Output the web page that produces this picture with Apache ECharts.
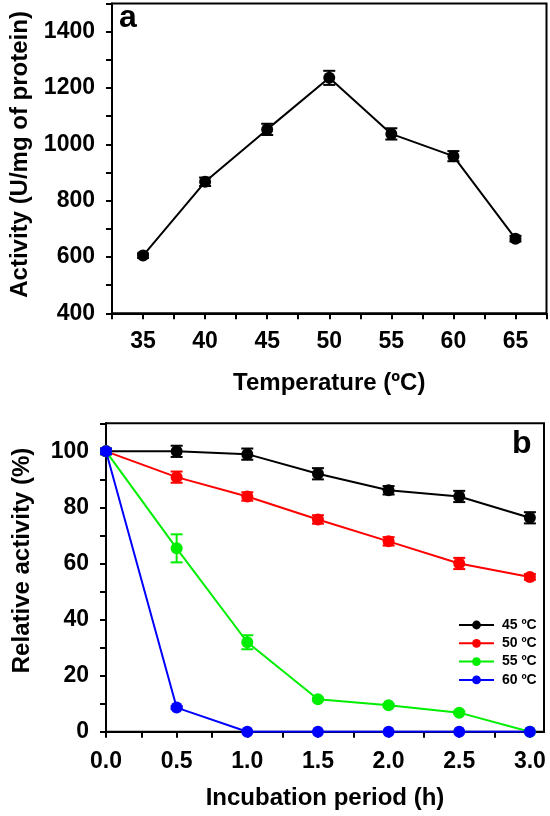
<!DOCTYPE html>
<html>
<head>
<meta charset="utf-8">
<script src="https://cdn.jsdelivr.net/npm/echarts@6/dist/echarts.min.js"></script>
<style>html,body{margin:0;padding:0;background:#fff;}#c{width:550px;height:816px;}</style>
</head>
<body>
<div id="c"></div>
<script>
// Panel a: activity vs temperature
const temperatures = [35, 40, 45, 50, 55, 60, 65];
const activity = [605, 867, 1053, 1236, 1037, 958, 665];
const activityErr = [8, 15, 20, 25, 20, 18, 10];

// Panel b: thermal stability
const hours = [0, 0.5, 1.0, 1.5, 2.0, 2.5, 3.0];
const seriesNames = ['45 ºC', '50 ºC', '55 ºC', '60 ºC'];
const rel45 = [100, 100, 99, 92, 86.1, 83.9, 76.3];
const rel50 = [100, 90.8, 83.9, 75.7, 67.9, 60.0, 55.2];
const rel55 = [100, 65.4, 31.9, 11.6, 9.4, 6.8, 0];
const rel60 = [100, 8.6, 0, 0, 0, 0, 0];
const err45 = [1, 2, 2, 2, 1.5, 2, 2];
const err50 = [1, 2, 1.5, 1.5, 1.5, 2, 1];
const err55 = [1, 5, 2.5, 0.5, 0.5, 0.5, 0];
const err60 = [1, 0.5, 0, 0, 0, 0, 0];
const colors = ['#000000', '#ff0000', '#00ee00', '#0000ff'];

const yTicksA = [400, 600, 800, 1000, 1200, 1400];
const xTicksA = [35, 40, 45, 50, 55, 60, 65];
const yTicksB = [0, 20, 40, 60, 80, 100];
const xTicksB = [0, 0.5, 1.0, 1.5, 2.0, 2.5, 3.0];

const FONT = '"Liberation Sans", Arial, Helvetica, sans-serif';
const near = (v, arr) => arr.some(t => Math.abs(t - v) < 1e-6);

function pairs(xs, ys, es) { return xs.map((x, i) => [x, ys[i], es[i]]); }

function errRender(color) {
  return function (params, api) {
    const x = api.value(0), y = api.value(1), e = api.value(2);
    if (!e) return null;
    const top = api.coord([x, y + e]);
    const bot = api.coord([x, y - e]);
    const hw = 6;
    const st = { stroke: color, lineWidth: 2 };
    return {
      type: 'group',
      children: [
        { type: 'line', shape: { x1: top[0], y1: top[1], x2: bot[0], y2: bot[1] }, style: st },
        { type: 'line', shape: { x1: top[0] - hw, y1: top[1], x2: top[0] + hw, y2: top[1] }, style: st },
        { type: 'line', shape: { x1: bot[0] - hw, y1: bot[1], x2: bot[0] + hw, y2: bot[1] }, style: st }
      ]
    };
  };
}

const labelStyle = { color: '#000', fontFamily: FONT, fontWeight: 'bold', fontSize: 23 };
const nameStyle = { color: '#000', fontFamily: FONT, fontWeight: 'bold', fontSize: 24 };
const axisLine = { show: true, lineStyle: { color: '#000', width: 2 } };
const axisTick = { show: true, inside: false, length: 6, lineStyle: { color: '#000', width: 2 } };

const bData = [rel45, rel50, rel55, rel60];
const bErr = [err45, err50, err55, err60];

const series = [];
series.push({
  type: 'line', xAxisIndex: 0, yAxisIndex: 0, name: 'activity',
  data: temperatures.map((t, i) => [t, activity[i]]),
  symbol: 'circle', symbolSize: 12,
  itemStyle: { color: '#000' }, lineStyle: { color: '#000', width: 2 }, z: 3
});
series.push({
  type: 'custom', xAxisIndex: 0, yAxisIndex: 0, name: 'activityErr',
  data: pairs(temperatures, activity, activityErr),
  encode: { x: 0, y: 1 }, renderItem: errRender('#000'), z: 4
});
bData.forEach((d, k) => {
  series.push({
    type: 'line', xAxisIndex: 1, yAxisIndex: 1, name: seriesNames[k],
    data: hours.map((h, i) => [h, d[i]]),
    symbol: 'circle', symbolSize: 12,
    itemStyle: { color: colors[k] }, lineStyle: { color: colors[k], width: 2 }, z: 3 + k
  });
  series.push({
    type: 'custom', xAxisIndex: 1, yAxisIndex: 1, name: 'err' + k,
    data: pairs(hours, d, bErr[k]),
    encode: { x: 0, y: 1 }, renderItem: errRender(colors[k]), z: 3 + k
  });
});

const chart = echarts.init(document.getElementById('c'), null, { renderer: 'canvas' });
chart.setOption({
  animation: false,
  backgroundColor: '#fff',
  grid: [
    { left: 106, top: 3.5, width: 440.5, height: 309.8, show: true, borderColor: '#000', borderWidth: 2, containLabel: false },
    { left: 106, top: 423.3, width: 438, height: 308.4, show: true, borderColor: '#000', borderWidth: 2, containLabel: false }
  ],
  xAxis: [
    {
      type: 'value', gridIndex: 0, min: 32.5, max: 67.5, interval: 2.5,
      axisLine, axisTick, splitLine: { show: false },
      axisLabel: Object.assign({ margin: 17, formatter: v => near(v, xTicksA) ? String(Math.round(v)) : '' }, labelStyle),
      name: 'Temperature (ºC)', nameLocation: 'middle', nameGap: 58, nameTextStyle: nameStyle
    },
    {
      type: 'value', gridIndex: 1, min: 0, max: 3.1, interval: 0.25,
      axisLine, axisTick, splitLine: { show: false },
      axisLabel: Object.assign({ margin: 18, showMaxLabel: false, formatter: v => near(v, xTicksB) ? v.toFixed(1) : '' }, labelStyle),
      name: 'Incubation period (h)', nameLocation: 'middle', nameGap: 55, nameTextStyle: nameStyle
    }
  ],
  yAxis: [
    {
      type: 'value', gridIndex: 0, min: 400, max: 1500, interval: 100,
      axisLine, axisTick, splitLine: { show: false },
      axisLabel: Object.assign({ margin: 17, formatter: v => near(v, yTicksA) ? String(Math.round(v)) : '' }, labelStyle),
      name: 'Activity (U/mg of protein)', nameLocation: 'middle', nameGap: 80,
      nameTextStyle: Object.assign({ padding: [0, 0, 0, 8] }, nameStyle)
    },
    {
      type: 'value', gridIndex: 1, min: 0, max: 110, interval: 10,
      axisLine, axisTick, splitLine: { show: false },
      axisLabel: Object.assign({ margin: 17, formatter: v => near(v, yTicksB) ? String(Math.round(v)) : '' }, labelStyle),
      name: 'Relative activity (%)', nameLocation: 'middle', nameGap: 72,
      nameTextStyle: Object.assign({ padding: [0, 0, 0, 34] }, nameStyle)
    }
  ],
  legend: {
    data: seriesNames,
    orient: 'vertical', left: 453, top: 612,
    itemWidth: 35, itemHeight: 11, itemGap: 2.3,
    textStyle: { color: '#000', fontFamily: FONT, fontWeight: 'bold', fontSize: 14, lineHeight: 16, padding: [0, 0, 0, 3] }
  },
  graphic: [
    { type: 'text', left: 119, top: 2, style: { text: 'a', fill: '#000', font: 'bold 32px ' + FONT } },
    { type: 'text', left: 512, top: 428, style: { text: 'b', fill: '#000', font: 'bold 32px ' + FONT } }
  ],
  series
});
</script>
</body>
</html>
